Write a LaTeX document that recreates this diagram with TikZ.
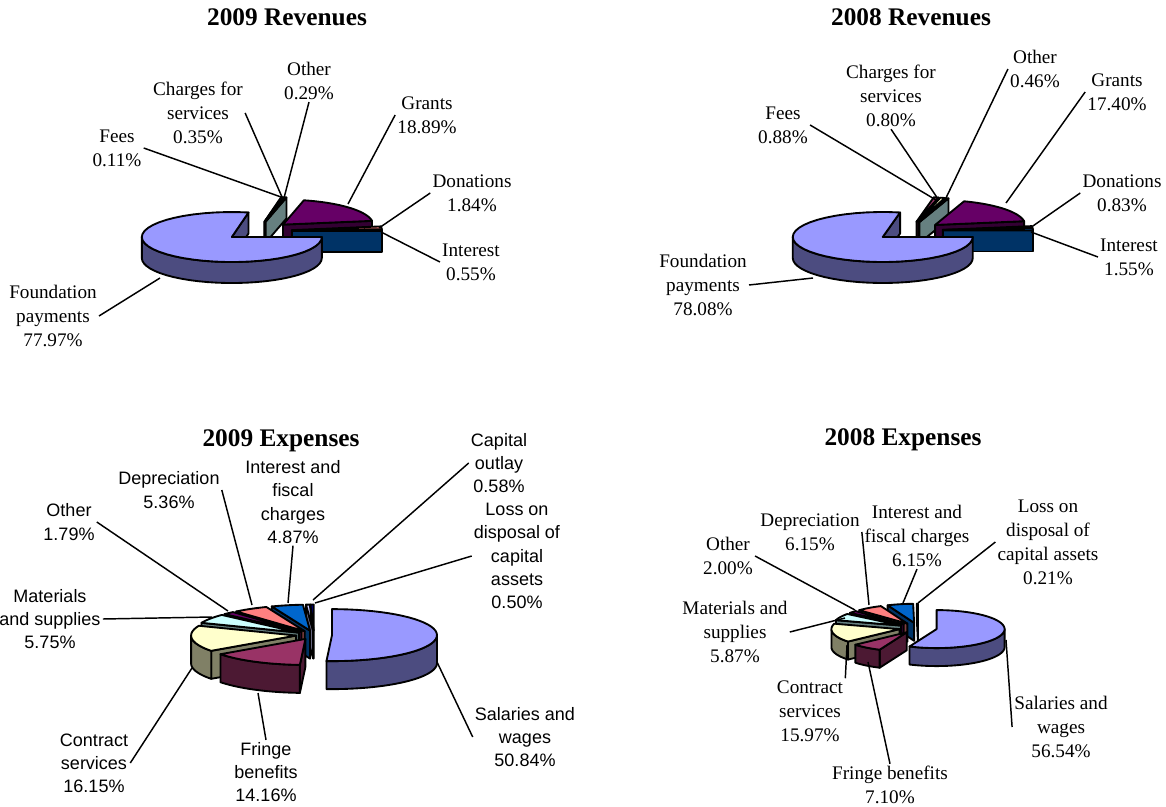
\documentclass[tikz,border=0pt]{standalone}
\usepackage{fontspec}
\setmainfont{Liberation Serif}
\setsansfont{Liberation Sans}
\usepackage{tikz}

\definecolor{pie1}{HTML}{9999FF}
\definecolor{pie2}{HTML}{993366}
\definecolor{pie3}{HTML}{FFFFCC}
\definecolor{pie4}{HTML}{CCFFFF}
\definecolor{pie5}{HTML}{660066}
\definecolor{pie6}{HTML}{FF8080}
\definecolor{pie7}{HTML}{0066CC}
\definecolor{pie8}{HTML}{CCCCFF}
\definecolor{pie9}{HTML}{000080}

% centre x, centre y, x radius, y radius, depth, explosion
\newcommand\setpie[6]{\def\pcx{#1}\def\pcy{#2}\def\prx{#3}\def\pry{#4}\def\pd{#5}\def\pe{#6}}
\newcommand\piewall[2]{\filldraw[fill=#2] (\pieX,\pieY) -- ({\pieX+\prx*cos(#1)},{\pieY-\pry*sin(#1)}) -- ++(0,\pd) -- (\pieX,{\pieY+\pd}) -- cycle;}
\newcommand\pieside[3]{\filldraw[fill=#3] plot[domain=#1:#2,samples=30] ({\pieX+\prx*cos(\x)},{\pieY-\pry*sin(\x)})
  -- plot[domain=#1:#2,samples=30] ({\pieX+\prx*cos(#1+#2-\x)},{\pieY-\pry*sin(#1+#2-\x)+\pd}) -- cycle;}
\newcommand\pieslice[3]{%
  \pgfmathsetmacro\pieM{(#1+#2)/2}
  \pgfmathsetmacro\pieX{\pcx+\pe*cos(\pieM)}
  \pgfmathsetmacro\pieY{\pcy-\pe*\pry/\prx*sin(\pieM)}
  \pgfmathsetmacro\pieCa{cos(#1)}
  \pgfmathsetmacro\pieCb{cos(#2)}
  \ifdim\pieCa pt>0.001pt \piewall{#1}{#3!50!black}\fi
  \ifdim\pieCb pt<-0.001pt \piewall{#2}{#3!50!black}\fi
  \pgfmathsetmacro\pieTa{max(#1,180)}\pgfmathsetmacro\pieTb{min(#2,360)}
  \ifdim\pieTa pt<\pieTb pt \pieside{\pieTa}{\pieTb}{#3!50!black}\fi
  \pgfmathsetmacro\pieTa{max(#1,-180)}\pgfmathsetmacro\pieTb{min(#2,0)}
  \ifdim\pieTa pt<\pieTb pt \pieside{\pieTa}{\pieTb}{#3!50!black}\fi
  \filldraw[fill=#3] (\pieX,\pieY) -- plot[domain=#1:#2,samples=40] ({\pieX+\prx*cos(\x)},{\pieY-\pry*sin(\x)}) -- cycle;
}

\begin{document}
\begin{tikzpicture}[x=0.75pt, y=-0.75pt, line width=1.4pt, line join=round,
    lbl/.style = {align=center, inner sep=1pt, font=\fontsize{14.4}{18}\selectfont},
    slbl/.style = {align=center, inner sep=1pt, font=\sffamily\fontsize{13.5}{17.4}\selectfont},
    ttl/.style = {font=\bfseries\fontsize{19}{22}\selectfont},
    leader/.style = {line width=1.1pt}]
    \useasboundingbox (0,0) rectangle (1166,806);

    % 2009 revenues
    \node[ttl] (t1) at (287,17) {2009 Revenues};
    \setpie{258}{231}{90}{25}{21}{34}
    \pieslice{78.9}{79.3}{pie2}
    \pieslice{77.64}{78.9}{pie3}
    \pieslice{76.6}{77.64}{pie4}
    \pieslice{8.6}{76.6}{pie5}
    \pieslice{1.98}{8.6}{pie6}
    \pieslice{0}{1.98}{pie7}
    \pieslice{79.3}{360}{pie1}
    \node[lbl] (fees09) at (117,148) {Fees\\0.11\%};
    \node[lbl] (chg09) at (198,113) {Charges for\\services\\0.35\%};
    \node[lbl] (oth09) at (309,81) {Other\\0.29\%};
    \node[lbl] (gra09) at (427,115) {Grants\\18.89\%};
    \node[lbl] (don09) at (472,193) {Donations\\1.84\%};
    \node[lbl] (int09) at (471,262) {Interest\\0.55\%};
    \node[lbl] (fnd09) at (53,316) {Foundation\\payments\\77.97\%};
    \coordinate (pfees09) at (281,197);
    \coordinate (pchg09) at (282,197);
    \coordinate (poth09) at (284,198);
    \coordinate (pgra09) at (348,204);
    \coordinate (pdon09) at (379,228);
    \coordinate (pint09) at (381,232);
    \coordinate (pfnd09) at (160,278);
    \draw[leader] (fees09.east) -- (pfees09);
    \draw[leader] (chg09.east) -- (pchg09);
    \draw[leader] (oth09.south) -- (poth09);
    \draw[leader] (gra09.west) -- (pgra09);
    \draw[leader] (don09.west) -- (pdon09);
    \draw[leader] (int09.west) -- (pint09);
    \draw[leader] (fnd09.east) -- (pfnd09);

    % 2008 revenues
    \node[ttl] (t2) at (911,17) {2008 Revenues};
    \setpie{909}{231}{90}{25}{21}{34}
    \pieslice{75.74}{78.9}{pie2}
    \pieslice{72.86}{75.74}{pie3}
    \pieslice{71.2}{72.86}{pie4}
    \pieslice{8.57}{71.2}{pie5}
    \pieslice{5.58}{8.57}{pie6}
    \pieslice{0}{5.58}{pie7}
    \pieslice{78.9}{360}{pie1}
    \node[lbl] (fees08) at (783,125) {Fees\\0.88\%};
    \node[lbl] (chg08) at (891,96) {Charges for\\services\\0.80\%};
    \node[lbl] (oth08) at (1035,69) {Other\\0.46\%};
    \node[lbl] (gra08) at (1117,92) {Grants\\17.40\%};
    \node[lbl] (don08) at (1122,193) {Donations\\0.83\%};
    \node[lbl] (int08) at (1129,257) {Interest\\1.55\%};
    \node[lbl] (fnd08) at (703,285) {Foundation\\payments\\78.08\%};
    \coordinate (pfees08) at (936,200);
    \coordinate (pchg08) at (938,199);
    \coordinate (poth08) at (945,200);
    \coordinate (pgra08) at (1006,203);
    \coordinate (pdon08) at (1030,228);
    \coordinate (pint08) at (1031,232);
    \coordinate (pfnd08) at (813,278);
    \draw[leader] (fees08.east) -- (pfees08);
    \draw[leader] (chg08.south) -- (pchg08);
    \draw[leader] (oth08.west) -- (poth08);
    \draw[leader] (gra08.west) -- (pgra08);
    \draw[leader] (don08.west) -- (pdon08);
    \draw[leader] (int08.west) -- (pint08);
    \draw[leader] (fnd08.east) -- (pfnd08);

    % 2009 expenses
    \node[ttl] (t3) at (281,441) {2009 Expenses};
    \setpie{314}{635}{105}{26}{28}{18}
    \pieslice{90}{91.8}{pie9}
    \pieslice{91.8}{93.89}{pie8}
    \pieslice{93.89}{111.42}{pie7}
    \pieslice{111.42}{130.72}{pie6}
    \pieslice{130.72}{137.16}{pie5}
    \pieslice{137.16}{157.86}{pie4}
    \pieslice{-93.02}{90}{pie1}
    \pieslice{157.86}{216}{pie3}
    \pieslice{216}{266.98}{pie2}
    \node[slbl] (cap09) at (499,463) {Capital\\outlay\\0.58\%};
    \node[slbl] (loss09) at (517,556) {Loss on\\disposal of\\capital\\assets\\0.50\%};
    \node[slbl] (ifc09) at (293,502) {Interest and\\fiscal\\charges\\4.87\%};
    \node[slbl] (dep09) at (169,490) {Depreciation\\5.36\%};
    \node[slbl] (oex09) at (69,522) {Other\\1.79\%};
    \node[slbl] (mat09) at (50,619) {Materials\\and supplies\\5.75\%};
    \node[slbl] (con09) at (94,763) {Contract\\services\\16.15\%};
    \node[slbl] (fri09) at (266,772) {Fringe\\benefits\\14.16\%};
    \node[slbl] (sal09) at (525,737) {Salaries and\\wages\\50.84\%};
    \coordinate (pcap09) at (313,600);
    \coordinate (ploss09) at (315,603);
    \coordinate (pifc09) at (288,603);
    \coordinate (pdep09) at (252,605);
    \coordinate (poex09) at (228,611);
    \coordinate (pmat09) at (212,617);
    \coordinate (pcon09) at (192,668);
    \coordinate (pfri09) at (258,693);
    \coordinate (psal09) at (437,662);
    \draw[leader] (cap09.west) -- (pcap09);
    \draw[leader] (loss09.west) -- (ploss09);
    \draw[leader] (ifc09.south) -- (pifc09);
    \draw[leader] (dep09.east) -- (pdep09);
    \draw[leader] (oex09.east) -- (poex09);
    \draw[leader] (mat09.east) -- (pmat09);
    \draw[leader] (con09.east) -- (pcon09);
    \draw[leader] (fri09.north) -- (pfri09);
    \draw[leader] (sal09.west) -- (psal09);

    % 2008 expenses
    \node[ttl] (t4) at (903,440) {2008 Expenses};
    \setpie{918}{628}{68}{19}{18}{19}
    \pieslice{90}{90.8}{pie9}
    \pieslice{90.8}{112.9}{pie7}
    \pieslice{112.9}{135.1}{pie6}
    \pieslice{135.1}{142.3}{pie5}
    \pieslice{142.3}{163.4}{pie4}
    \pieslice{-113.5}{90}{pie1}
    \pieslice{163.4}{220.9}{pie3}
    \pieslice{220.9}{246.5}{pie2}
    \node[lbl] (loss08) at (1048,542) {Loss on\\disposal of\\capital assets\\0.21\%};
    \node[lbl] (ifc08) at (917,536) {Interest and\\fiscal charges\\6.15\%};
    \node[lbl] (dep08) at (810,532) {Depreciation\\6.15\%};
    \node[lbl] (oex08) at (728,556) {Other\\2.00\%};
    \node[lbl] (mat08) at (735,632) {Materials and\\supplies\\5.87\%};
    \node[lbl] (con08) at (810,711) {Contract\\services\\15.97\%};
    \node[lbl] (fri08) at (890,785) {Fringe benefits\\7.10\%};
    \node[lbl] (sal08) at (1061,727) {Salaries and\\wages\\56.54\%};
    \coordinate (ploss08) at (918,603);
    \coordinate (pifc08) at (903,603);
    \coordinate (pdep08) at (869,605);
    \coordinate (poex08) at (855,610);
    \coordinate (pmat08) at (845,618);
    \coordinate (pcon08) at (847,645);
    \coordinate (pfri08) at (868,662);
    \coordinate (psal08) at (1006,640);
    \draw[leader] (loss08.west) -- (ploss08);
    \draw[leader] (ifc08.south) -- (pifc08);
    \draw[leader] (dep08.east) -- (pdep08);
    \draw[leader] (oex08.east) -- (poex08);
    \draw[leader] (mat08.east) -- (pmat08);
    \draw[leader] (con08.north east) -- (pcon08);
    \draw[leader] (fri08.north) -- (pfri08);
    \draw[leader] (sal08.west) -- (psal08);
\end{tikzpicture}
\end{document}
